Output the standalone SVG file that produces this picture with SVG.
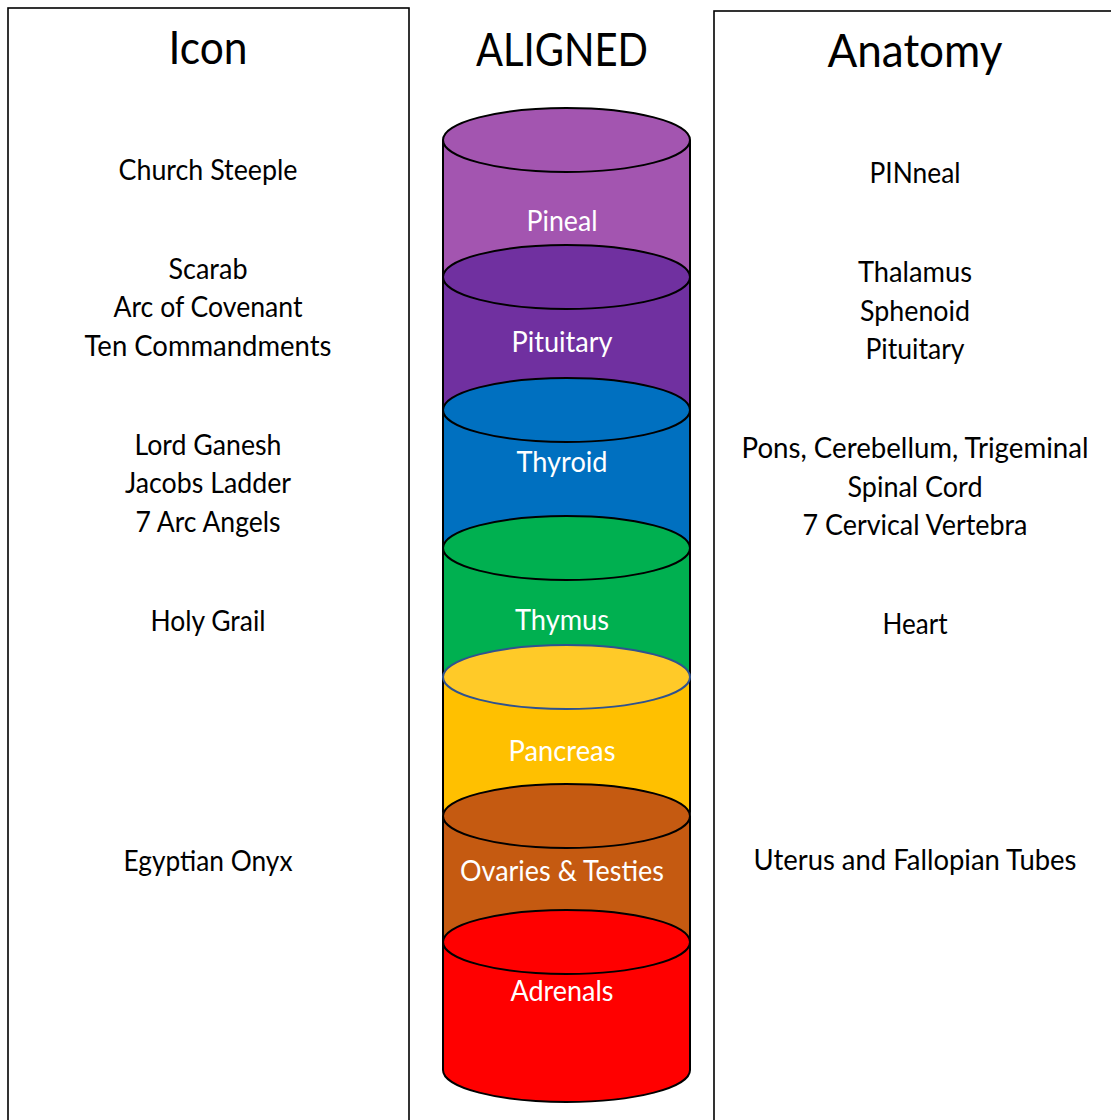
<svg xmlns="http://www.w3.org/2000/svg" width="1111" height="1120" viewBox="0 0 1111 1120">
<style>
.panel{fill:#fff;stroke:#000;stroke-width:1.6}
.t{font-family:Lato,"Liberation Sans",sans-serif;font-size:28px;fill:#000;text-anchor:middle}
.h{font-family:Lato,"Liberation Sans",sans-serif;font-size:46px;fill:#000;text-anchor:middle}
.c{font-family:Lato,"Liberation Sans",sans-serif;font-size:28px;fill:#fff;text-anchor:middle}
.body{stroke:#000;stroke-width:2}
.top{stroke:#000;stroke-width:2}
</style>
<rect width="1111" height="1120" fill="#fff"/>
<g id="icon-panel">
<rect class="panel" x="8" y="8" width="401" height="1200"/>
<text class="h" x="208" y="64" textLength="79" lengthAdjust="spacingAndGlyphs">Icon</text>
<text class="t" x="208" y="180" textLength="179" lengthAdjust="spacingAndGlyphs">Church Steeple</text>
<text class="t" x="208" y="279" textLength="79" lengthAdjust="spacingAndGlyphs">Scarab</text>
<text class="t" x="208" y="317" textLength="189" lengthAdjust="spacingAndGlyphs">Arc of Covenant</text>
<text class="t" x="208" y="356" textLength="247" lengthAdjust="spacingAndGlyphs">Ten Commandments</text>
<text class="t" x="208" y="455" textLength="147" lengthAdjust="spacingAndGlyphs">Lord Ganesh</text>
<text class="t" x="208" y="493" textLength="166" lengthAdjust="spacingAndGlyphs">Jacobs Ladder</text>
<text class="t" x="208" y="532" textLength="145" lengthAdjust="spacingAndGlyphs">7 Arc Angels</text>
<text class="t" x="208" y="631" textLength="115" lengthAdjust="spacingAndGlyphs">Holy Grail</text>
<text class="t" x="208" y="871" textLength="169" lengthAdjust="spacingAndGlyphs">Egyptian Onyx</text>
</g>
<g id="anatomy-panel">
<rect class="panel" x="714" y="11" width="420" height="1200"/>
<text class="h" x="915" y="67" textLength="175" lengthAdjust="spacingAndGlyphs">Anatomy</text>
<text class="t" x="915" y="183" textLength="91" lengthAdjust="spacingAndGlyphs">PINneal</text>
<text class="t" x="915" y="282" textLength="114" lengthAdjust="spacingAndGlyphs">Thalamus</text>
<text class="t" x="915" y="321" textLength="110" lengthAdjust="spacingAndGlyphs">Sphenoid</text>
<text class="t" x="915" y="359" textLength="99" lengthAdjust="spacingAndGlyphs">Pituitary</text>
<text class="t" x="915" y="458" textLength="347" lengthAdjust="spacingAndGlyphs">Pons, Cerebellum, Trigeminal</text>
<text class="t" x="915" y="497" textLength="135" lengthAdjust="spacingAndGlyphs">Spinal Cord</text>
<text class="t" x="915" y="535" textLength="225" lengthAdjust="spacingAndGlyphs">7 Cervical Vertebra</text>
<text class="t" x="915" y="634" textLength="65" lengthAdjust="spacingAndGlyphs">Heart</text>
<text class="t" x="915" y="870" textLength="323" lengthAdjust="spacingAndGlyphs">Uterus and Fallopian Tubes</text>
</g>
<g id="aligned-title">
<text class="h" x="562" y="66" textLength="172" lengthAdjust="spacingAndGlyphs">ALIGNED</text>
</g>
<g id="pineal">
<path class="body" fill="#A355B0" d="M443,140 V277 A123.5,32 0 0 0 690,277 V140"/>
<ellipse class="top" fill="#A355B0" cx="566.5" cy="140" rx="123.5" ry="32"/>
<text class="c" x="562" y="231" textLength="71" lengthAdjust="spacingAndGlyphs">Pineal</text>
</g>
<g id="pituitary">
<path class="body" fill="#7030A0" d="M443,277 V410 A123.5,32 0 0 0 690,410 V277"/>
<ellipse class="top" fill="#7030A0" cx="566.5" cy="277" rx="123.5" ry="32"/>
<text class="c" x="562" y="352" textLength="101" lengthAdjust="spacingAndGlyphs">Pituitary</text>
</g>
<g id="thyroid">
<path class="body" fill="#0070C0" d="M443,410 V548 A123.5,32 0 0 0 690,548 V410"/>
<ellipse class="top" fill="#0070C0" cx="566.5" cy="410" rx="123.5" ry="32"/>
<text class="c" x="562" y="472" textLength="91" lengthAdjust="spacingAndGlyphs">Thyroid</text>
</g>
<g id="thymus">
<path class="body" fill="#00B050" d="M443,548 V677 A123.5,32 0 0 0 690,677 V548"/>
<ellipse class="top" fill="#00B050" cx="566.5" cy="548" rx="123.5" ry="32"/>
<text class="c" x="562" y="630" textLength="94" lengthAdjust="spacingAndGlyphs">Thymus</text>
</g>
<g id="pancreas">
<path class="body" fill="#FFC000" d="M443,677 V812 A123.5,32 0 0 0 690,812 V677"/>
<ellipse fill="#FFCA28" stroke="#2F528F" stroke-width="2" cx="566.5" cy="677" rx="123.5" ry="32"/>
<text class="c" x="562" y="761" textLength="107" lengthAdjust="spacingAndGlyphs">Pancreas</text>
</g>
<g id="ovaries-testies">
<path class="body" fill="#C55A11" d="M443,816 V942 A123.5,32 0 0 0 690,942 V816"/>
<ellipse class="top" fill="#C55A11" cx="566.5" cy="816" rx="123.5" ry="32"/>
<text class="c" x="562" y="881" textLength="204" lengthAdjust="spacingAndGlyphs">Ovaries &amp; Testies</text>
</g>
<g id="adrenals">
<path class="body" fill="#FF0000" d="M443,942 V1070 A123.5,32 0 0 0 690,1070 V942"/>
<ellipse class="top" fill="#FF0000" cx="566.5" cy="942" rx="123.5" ry="32"/>
<text class="c" x="562" y="1001" textLength="103" lengthAdjust="spacingAndGlyphs">Adrenals</text>
</g>
<g id="connectors"/>
</svg>
